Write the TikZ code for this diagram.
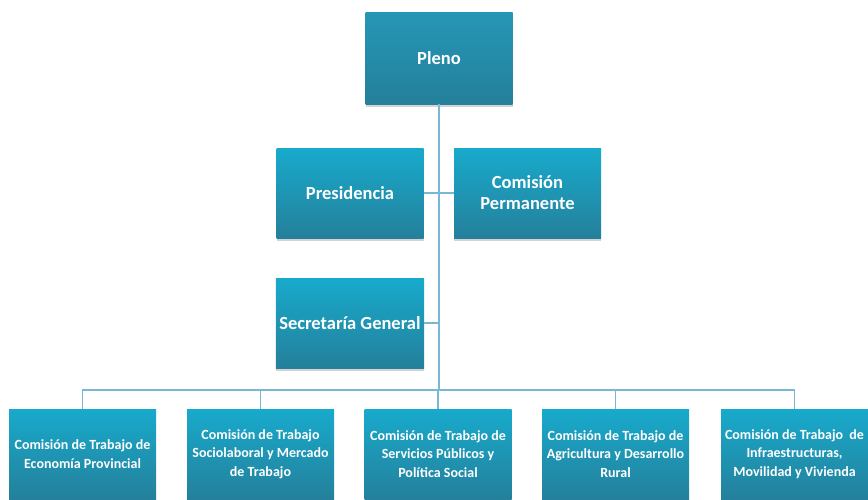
\documentclass[tikz,border=0pt]{standalone}
\usepackage{fontspec}
\setmainfont{Carlito}
\usetikzlibrary{shadows}

\definecolor{boxtop}{RGB}{24,170,204}
\definecolor{boxbottom}{RGB}{36,128,155}
\definecolor{plenotop}{RGB}{38,150,182}
\definecolor{linkblue}{RGB}{120,184,212}

\tikzset{
	orgbox/.style={rectangle, minimum width=147pt, minimum height=90pt, align=center,
		top color=boxtop, bottom color=boxbottom, text=white, font=\bfseries\fontsize{18.5}{21}\selectfont,
		drop shadow={shadow xshift=0pt, shadow yshift=-2.5pt, opacity=0.35}},
	combox/.style={orgbox, font=\bfseries\fontsize{14}{18.5}\selectfont},
	link/.style={draw=linkblue, line width=1.6pt}
}

\begin{document}
\begin{tikzpicture}[x=1pt, y=-1pt]
		\useasboundingbox (0,0) rectangle (868,499);
		\node[orgbox, top color=plenotop, minimum height=92pt] (pleno) at (439,58) {Pleno};
		\node[orgbox] (presidencia) at (350,193) {Presidencia};
		\node[orgbox] (permanente) at (527.5,193) {Comisión\\Permanente};
		\node[orgbox] (secretaria) at (350,323) {Secretaría General};
		\node[combox] (economia) at (82.5,454) {Comisión de Trabajo de\\Economía Provincial};
		\node[combox] (sociolaboral) at (260.5,454) {Comisión de Trabajo\\Sociolaboral y Mercado\\de Trabajo};
		\node[combox] (servicios) at (438,454) {Comisión de Trabajo de\\Servicios Públicos y\\Política Social};
		\node[combox] (agricultura) at (615.5,454) {Comisión de Trabajo de\\Agricultura y Desarrollo\\Rural};
		\node[combox] (infra) at (794.5,454) {Comisión de Trabajo~~de\\Infraestructuras,\\Movilidad y Vivienda};
		\coordinate (bus) at (439,390);
		\path[link]
		(pleno.south) edge (bus)
		(presidencia.east) edge (permanente.west)
		(secretaria.east) edge (secretaria.east -| bus)
		;
		\foreach \c in {economia,sociolaboral,servicios,agricultura,infra}
			\draw[link] (\c.north) |- (bus);
	\end{tikzpicture}
\end{document}
